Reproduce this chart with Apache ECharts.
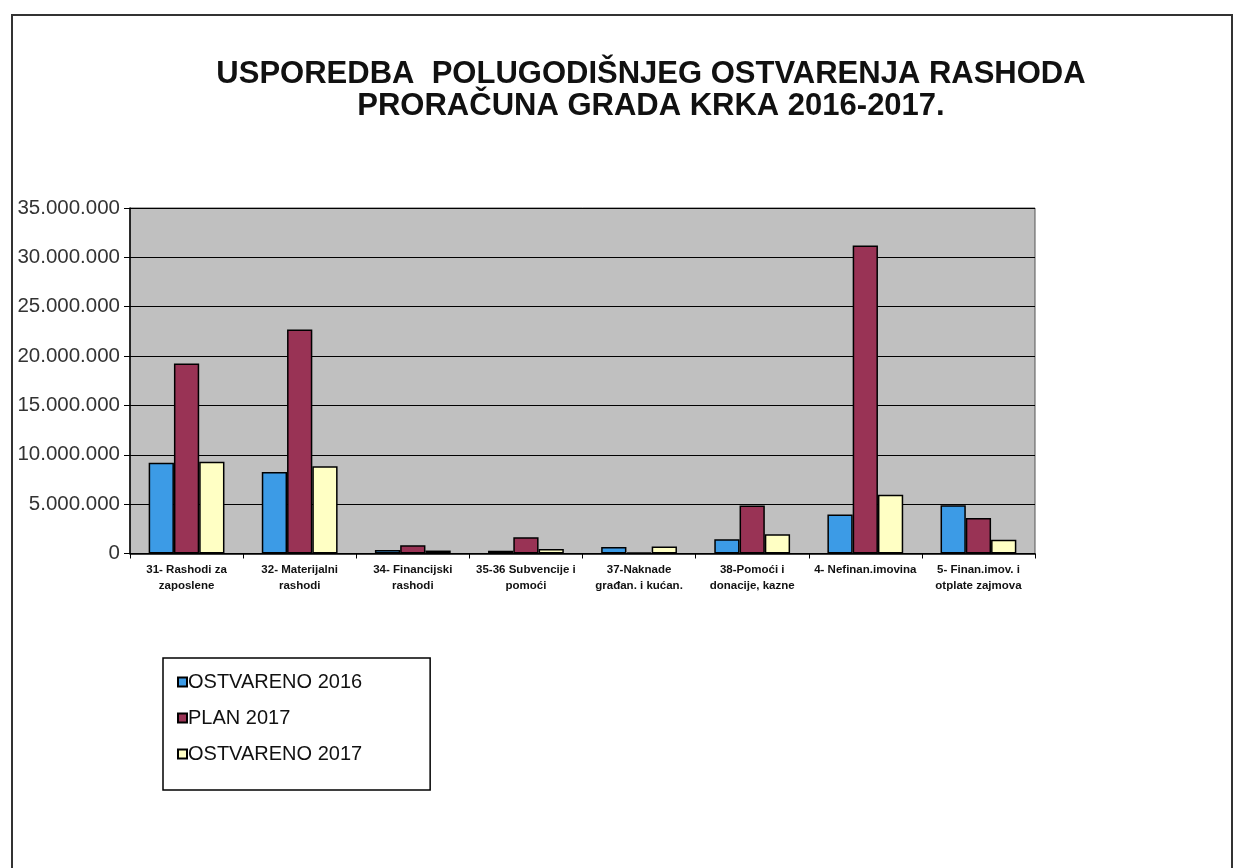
<!DOCTYPE html>
<html>
<head>
<meta charset="utf-8">
<script src="https://cdn.jsdelivr.net/npm/echarts@6/dist/echarts.min.js"></script>
<style>
html,body{margin:0;padding:0;background:#fff;}
#c{width:1236px;height:868px;}
</style>
</head>
<body>
<div id="c"></div>
<script>
var categories = [
  "31- Rashodi za\nzaposlene",
  "32- Materijalni\nrashodi",
  "34- Financijski\nrashodi",
  "35-36 Subvencije i\npomoći",
  "37-Naknade\ngrađan. i kućan.",
  "38-Pomoći i\ndonacije, kazne",
  "4- Nefinan.imovina",
  "5- Finan.imov. i\notplate zajmova"
];
var ostvareno2016 = [9200000, 8250000, 350000, 280000, 650000, 1450000, 3950000, 4900000];
var plan2017 = [19250000, 22700000, 830000, 1650000, 120000, 4850000, 31200000, 3600000];
var ostvareno2017 = [9300000, 8850000, 300000, 450000, 700000, 1950000, 5950000, 1400000];
var yTicks = [0, 5000000, 10000000, 15000000, 20000000, 25000000, 30000000, 35000000];

function fmt(v){ return String(v).replace(/\B(?=(\d{3})+(?!\d))/g, '.'); }

var chart = echarts.init(document.getElementById('c'));
var barBorder = {borderColor:'#000', borderWidth:1.5};
chart.setOption({
  animation:false,
  backgroundColor:'#fff',
  title:{
    text:'USPOREDBA  POLUGODIŠNJEG OSTVARENJA RASHODA\nPRORAČUNA GRADA KRKA 2016-2017.',
    left:646, top:53, textAlign:'center',
    textStyle:{fontFamily:'Liberation Sans', fontWeight:'bold', fontSize:31, color:'#111', lineHeight:32, align:'center'}
  },
  grid:{left:130, right:201, top:208, bottom:314.5, show:true, backgroundColor:'#C0C0C0', borderColor:'#555', borderWidth:1},
  legend:{
    orient:'vertical', left:163, top:658,
    padding:[14,68,26,14], itemGap:16, itemWidth:9, itemHeight:9,
    borderColor:'#000', borderWidth:1.5, icon:'rect',
    textStyle:{fontFamily:'Liberation Sans', fontSize:20, color:'#111', padding:[0,0,0,-4]}
  },
  xAxis:{
    type:'category', data:categories,
    axisLine:{lineStyle:{color:'#000', width:1.5}},
    axisTick:{show:true, lineStyle:{color:'#000'}, length:5},
    axisLabel:{interval:0, fontFamily:'Liberation Sans', fontWeight:'bold', fontSize:11.5, color:'#111', lineHeight:16, margin:8}
  },
  yAxis:{
    type:'value', min:0, max:35000000, interval:5000000,
    axisLine:{show:true, lineStyle:{color:'#000', width:1.5}},
    axisTick:{show:true, lineStyle:{color:'#000'}, length:6},
    splitLine:{lineStyle:{color:'#000', width:1.2}},
    axisLabel:{fontFamily:'Liberation Sans', fontSize:20.5, color:'#333', margin:10, formatter:function(v){return fmt(v);}}
  },
  series:[
    {name:'OSTVARENO 2016', type:'bar', data:ostvareno2016, barGap:'0%', barCategoryGap:'33%', itemStyle:Object.assign({color:'#3C9BE6'}, barBorder)},
    {name:'PLAN 2017', type:'bar', data:plan2017, barGap:'0%', barCategoryGap:'33%', itemStyle:Object.assign({color:'#993355'}, barBorder)},
    {name:'OSTVARENO 2017', type:'bar', data:ostvareno2017, barGap:'0%', barCategoryGap:'33%', itemStyle:Object.assign({color:'#FFFFC4'}, barBorder)}
  ],
  graphic:[
    {type:'rect', shape:{x:12, y:15, width:1220, height:900}, style:{fill:'none', stroke:'#333', lineWidth:2}, silent:true}
  ]
});
</script>
</body>
</html>
